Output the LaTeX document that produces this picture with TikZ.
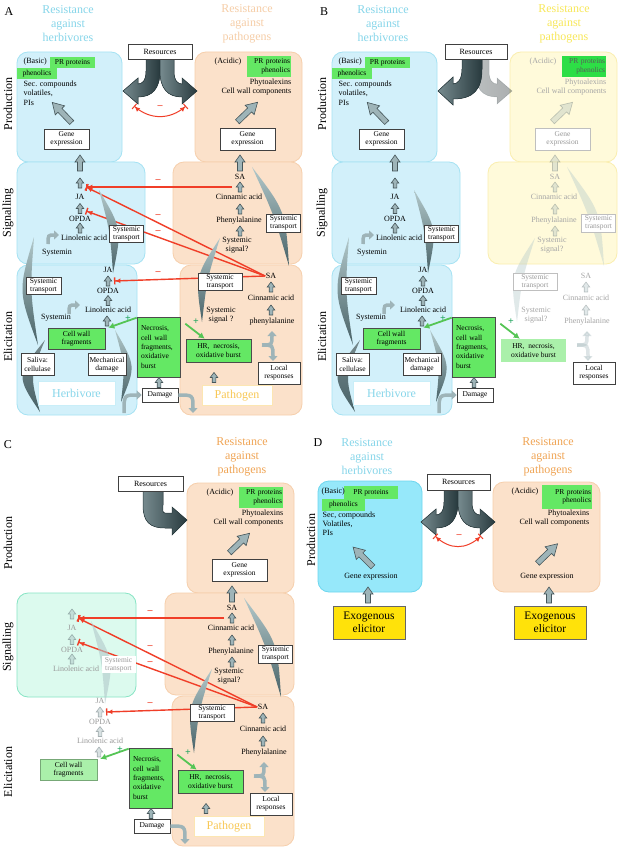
\documentclass[tikz,border=0pt]{standalone}
\usepackage{fontspec}
\setmainfont{Liberation Serif}
\usetikzlibrary{positioning, arrows.meta, calc}
\pgfdeclarelayer{boxes}
\pgfdeclarelayer{mid}
\pgfsetlayers{boxes,mid,main}

\definecolor{herbfill}{RGB}{210,240,250}
\definecolor{herbline}{RGB}{165,226,243}
\definecolor{herbhead}{RGB}{135,214,234}
\definecolor{pathfill}{RGB}{251,225,202}
\definecolor{pathline}{RGB}{246,207,172}
\definecolor{pathpale}{RGB}{246,206,168}
\definecolor{pathhead}{RGB}{240,165,85}
\definecolor{pathword}{RGB}{248,200,85}
\definecolor{yelfill}{RGB}{255,250,218}
\definecolor{yelline}{RGB}{250,238,175}
\definecolor{yelhead}{RGB}{248,232,90}
\definecolor{mintfill}{RGB}{220,250,238}
\definecolor{mintline}{RGB}{135,228,196}
\definecolor{cyanfill}{RGB}{150,232,250}
\definecolor{cyanline}{RGB}{110,214,238}
\definecolor{leafgreen}{RGB}{100,232,100}
\definecolor{richgreen}{RGB}{45,222,70}
\definecolor{palegreen}{RGB}{170,240,170}
\definecolor{inhibred}{RGB}{240,62,40}
\definecolor{plusgreen}{RGB}{35,165,95}
\definecolor{arrgrey}{RGB}{158,180,184}
\definecolor{arredge}{RGB}{70,86,90}
\definecolor{swlight}{RGB}{178,200,202}
\definecolor{swdark}{RGB}{72,98,103}
\definecolor{resdark}{RGB}{40,58,62}
\definecolor{reslight}{RGB}{118,138,142}
\definecolor{elicyel}{RGB}{255,226,10}

% crescent: top, bottom, outer control, inner control
\newcommand{\swoosh}[5][]{\path[#1] #2 .. controls #4 .. #3 .. controls #5 .. #2 -- cycle;}
% one branch of the resources arrow, turning left
\newcommand{\resbranch}{\filldraw[resarr] (-14,0) -- (-14,12) .. controls (-14,22) and (-18,25) .. (-22,25) -- (-22,19) -- (-37,32) -- (-22,45) -- (-22,38) .. controls (-8,38) and (0,30) .. (0,12) -- (0,0) -- cycle;}

% herbivore column
\newcommand{\herbprod}{%
  \node[grbox, minimum width=45pt, minimum height=11.5pt] (prot) at (72.5,62.5) {PR proteins};
  \node[grbox, minimum width=40pt, minimum height=11pt] (phen) at (37,73.5) {phenolics};
  \node[lbl, anchor=west] (basic) at (23,62) {(Basic)};
  \node[lbl, anchor=north west, align=left] (sec) at (23,80) {Sec. compounds\\volatiles,\\PIs};
  \pic[rotate=134] at (62,112.5) {diagarr};
  \node[wbox, minimum width=45pt, minimum height=20pt] (hgene) at (66.5,139) {Gene\\expression};
  \pic at (80,163) {bigup};
}
\newcommand{\herbsig}{%
  \swoosh[hleaf]{(99,190)}{(113,273)}{(122,229)}{(110,231)}
  \pic[hup] at (80,183) {upar};
  \node[lbl, htxt] (JAs) at (80,197) {JA};
  \pic[hup] at (80,208.5) {upar};
  \node[lbl, htxt] (OPDAs) at (80,219) {OPDA};
  \pic[hup] at (80,228) {upar};
  \node[lbl, htxt] (lins) at (84,238) {Linolenic acid};
  \node[wbox, hwbox, minimum width=34pt, minimum height=17pt] (hsts) at (126.5,233.5) {Systemic\\transport};
  \coordinate (tJA) at (86,187);
  \coordinate (tOP) at (86,211);
}
\newcommand{\herbelic}{%
  \node[lbl, htxt] (JAe) at (108,270) {JA};
  \pic[hup] at (108,281) {upar};
  \node[lbl, htxt] (OPDAe) at (108,291) {OPDA};
  \pic[hup] at (108,300.5) {upar};
  \node[lbl, htxt] (lined) at (108,310) {Linolenic acid};
  \pic[hup] at (107,321) {upar};
  \node[cwbox, minimum width=57pt, minimum height=21pt] (cwf) at (76.5,338.5) {Cell wall\\fragments};
  \coordinate (tJA2) at (114,281);
}
\newcommand{\herbextra}{%
  \swoosh[hleaf]{(34,237)}{(38,345)}{(18,291)}{(30,291)}
  \swoosh[dleaf]{(45,340)}{(40,412)}{(16,376)}{(30,376)}
  \swoosh[hleaf]{(115,330)}{(121,402)}{(136,366)}{(125,366)}
  \draw[cband] (48,244) .. controls (48,235) .. (59,235);
  \node[lbl] (sysa) at (57,253) {Systemin};
  \draw[cband] (69,314) .. controls (69,305) .. (80,305);
  \node[lbl] (sysb) at (56,318) {Systemin};
  \node[wbox, minimum width=35pt, minimum height=17pt] (hste) at (43.5,285.5) {Systemic\\transport};
  \node[wbox, minimum width=33pt, minimum height=22pt] (saliva) at (37.5,364.5) {Saliva:\\cellulase};
  \node[wbox, minimum width=38pt, minimum height=22pt] (mech) at (107,364.5) {Mechanical\\damage};
  \node[namebox, draw=herbline!60, text=herbhead, minimum width=77pt, minimum height=24pt] (herbi) at (76.5,393.5) {Herbivore};
}

% pathogen column
\newcommand{\pathprod}{%
  \node[lbl, ptxt] (acidic) at (228,62) {(Acidic)};
  \node[prgrn, text width=42pt, minimum height=21pt] (pprot) at (269,66.5) {PR proteins\\phenolics};
  \node[lbl, ptxt, anchor=north east, align=right, font=\fontsize{8}{9}\selectfont] (phyto) at (292,78) {Phytoalexins\\Cell wall components};
  \pic[pup, rotate=44] at (247.5,112) {diagarr};
  \node[wbox, pwbox, minimum width=55pt, minimum height=22pt] (pgene) at (247.5,139) {Gene\\expression};
  \pic[pup] at (240,163) {bigup};
}
\newcommand{\pathsig}{%
  \swoosh[pleaf]{(252,167)}{(289,266)}{(285.5,211)}{(274,215)}
  \node[lbl, ptxt] (SAs) at (240,177) {SA};
  \pic[pup] at (240,187) {upar};
  \node[lbl, ptxt] (cinns) at (239,197) {Cinnamic acid};
  \pic[pup] at (240,209) {upar};
  \node[lbl, ptxt] (phes) at (239,221) {Phenylalanine};
  \pic[pup] at (240,231) {upar};
  \node[lbl, ptxt, align=center] (sigs) at (237,245) {Systemic\\signal?};
  \node[wbox, pwbox, minimum width=34pt, minimum height=18pt] (psts) at (283.5,223) {Systemic\\transport};
  \coordinate (fromSA) at (232,187);
}
\newcommand{\pathelic}[1]{%
  \swoosh[pleaf]{(220,238)}{(202,322)}{(195,276.5)}{(207,279)}
  \node[lbl, ptxt] (SAe) at (271,276) {SA};
  \pic[pup] at (271,287) {upar};
  \node[lbl, ptxt] (cinne) at (271,298) {Cinnamic acid};
  \pic[pup] at (271,310) {upar};
  \node[lbl, ptxt] (phee) at (272,322) {#1};
  \draw[pband] (262,345) .. controls (272,345) .. (272,331);
  \draw[pband] (262,345) .. controls (273,345) .. (273,361);
  \node[wbox, minimum width=42pt, minimum height=22pt] (local) at (279,373) {Local\\responses};
  \node[wbox, pwbox, minimum width=44pt, minimum height=17pt] (pste) at (220,281.5) {Systemic\\transport};
  \node[hrbox, minimum width=65pt, minimum height=23pt] (hr) at (218.5,350.5) {HR,\ \ necrosis,\\oxidative burst};
}
\newcommand{\pathextra}{%
  \pic at (214,377.5) {upar};
  \node[namebox, draw=pathword!45, text=pathword, minimum width=70pt, minimum height=20pt] (patho) at (237,395.5) {Pathogen};
}

% wound signals in the middle
\newcommand{\damagepart}{%
  \node[nbox, text width=35pt, minimum height=60pt] (necro) at (158.5,347) {Necrosis,\\cell wall\\fragments,\\oxidative\\burst};
  \node[wbox, minimum width=36pt, minimum height=14pt] (dmg) at (160,395) {Damage};
  \pic at (159,382.5) {upar};
  \draw[gline] ([yshift=-1pt]necro.north west) -- ([xshift=3pt]cwf.north east);
  \node[plussign] (pl1) at (128,319) {+};
  \draw[gline] ([xshift=5pt, yshift=-7pt]necro.north east) -- ([xshift=19pt]hr.north west);
  \node[plussign] (pl2) at (196,322) {+};
}
% SA blocks JA
\newcommand{\crosstalk}{%
  \draw[inhib] (fromSA) -- (tJA);
  \draw[inhib] (SAe.west) -- (tJA);
  \draw[inhib] (SAe.west) -- (tOP);
  \draw[inhib] (SAe.west) -- (tJA2);
  \node[minsign] (m1) at (158,181) {--};
  \node[minsign] (m2) at (158,216) {--};
  \node[minsign] (m3) at (158,232) {--};
  \node[minsign] (m4) at (158,273) {--};
}

\begin{document}
\begin{tikzpicture}[x=1pt, y=-1pt,
    lbl/.style={font=\fontsize{8}{9.5}\selectfont, inner sep=0.5pt},
    wbox/.style={draw=black!75, fill=white, line width=0.6pt, font=\fontsize{7.5}{8.3}\selectfont, align=center, inner sep=1pt},
    grbox/.style={fill=leafgreen, font=\fontsize{7.5}{8.5}\selectfont, align=center, inner sep=1pt},
    nbox/.style={grbox, draw=black!70, line width=0.6pt, align=left, inner xsep=4pt, font=\fontsize{7.5}{9.3}\selectfont},
    hrbox/.style={grbox, draw=black!70, line width=0.6pt},
    cwbox/.style={grbox, draw=black!70, line width=0.6pt},
    prgrn/.style={grbox, align=right},
    namebox/.style={fill=white, line width=0.4pt, font=\fontsize{12}{12}\selectfont, inner sep=1pt},
    elibox/.style={fill=elicyel, draw=black!60, line width=0.7pt, align=center, font=\fontsize{11.5}{13}\selectfont, minimum width=72pt, minimum height=33pt},
    hbox/.style={rounded corners=11pt, fill=herbfill, draw=herbline, line width=0.8pt},
    pbox/.style={rounded corners=11pt, fill=pathfill, draw=pathline, line width=0.8pt},
    ybox/.style={rounded corners=11pt, fill=yelfill, draw=yelline, line width=0.8pt},
    mbox/.style={rounded corners=11pt, fill=mintfill, draw=mintline, line width=0.8pt},
    cbox/.style={rounded corners=11pt, fill=cyanfill, draw=cyanline, line width=0.8pt},
    htxt/.style={}, ptxt/.style={}, hwbox/.style={}, pwbox/.style={},
    hup/.style={}, pup/.style={},
    hleaf/.style={top color=swlight, bottom color=swdark},
    pleaf/.style={top color=swlight, bottom color=swdark},
    dleaf/.style={top color=swdark!75, bottom color=swdark},
    arrstyle/.style={fill=arrgrey, draw=arredge, line width=0.6pt},
    cband/.style={draw=arrgrey, line width=3.5pt, -{Triangle[width=9pt, length=5pt]}},
    pband/.style={cband},
    resarr/.style={left color=reslight, right color=resdark, draw=resdark, line width=0.5pt},
    inhib/.style={draw=inhibred, line width=1.4pt, -{Latex[length=5pt, width=5pt] Bar[width=7pt]}},
    dbl/.style={draw=inhibred, line width=1pt, {Bar[width=7pt] Latex[length=5pt, width=5pt]}-{Latex[length=5pt, width=5pt] Bar[width=7pt]}},
    gline/.style={draw=leafgreen!85!black, line width=1.8pt, -{Latex[length=6pt, width=6.5pt]}},
    minsign/.style={text=inhibred, font=\fontsize{10}{10}\selectfont\bfseries, inner sep=0pt},
    plussign/.style={text=plusgreen, font=\fontsize{10}{10}\selectfont\bfseries, inner sep=0pt},
    headlbl/.style={font=\fontsize{12}{14}\selectfont, align=center},
    sidelbl/.style={font=\fontsize{12}{12}\selectfont, rotate=90},
    paneltag/.style={font=\fontsize{12}{12}\selectfont},
    upar/.pic={\filldraw[arrstyle] (-1.8,5) -- (-1.8,0) -- (-3.8,0) -- (0,-5) -- (3.8,0) -- (1.8,0) -- (1.8,5) -- cycle;},
    bigup/.pic={\filldraw[arrstyle] (-2.5,8) -- (-2.5,-1) -- (-5,-1) -- (0,-8) -- (5,-1) -- (2.5,-1) -- (2.5,8) -- cycle;},
    diagarr/.pic={\filldraw[arrstyle] (-14,-2.8) -- (3,-2.8) -- (3,-6.5) -- (14,0) -- (3,6.5) -- (3,2.8) -- (-14,2.8) -- cycle;}
    ]
\useasboundingbox (0,0) rectangle (623,853);
\begin{pgfonlayer}{boxes}
  \fill[white] (0,0) rectangle (623,853);
\end{pgfonlayer}

% ---------------- A ----------------
\begin{scope}[name prefix=A-]
  \begin{pgfonlayer}{boxes}
    \draw[hbox] (17,52) rectangle (122,162);
    \draw[pbox] (195,52) rectangle (302,162);
    \draw[hbox] (17,162) rectangle (145,264);
    \draw[pbox] (173,162) rectangle (302,264);
    \draw[hbox] (17,265) rectangle (137,415);
    \draw[pbox] (180,265) rectangle (302,415);
  \end{pgfonlayer}
  \node[paneltag] (tag) at (9,12) {A};
  \node[headlbl, text=herbhead] (hhead) at (68,24) {Resistance\\against\\herbivores};
  \node[headlbl, text=pathpale] (phead) at (247,24) {Resistance\\against\\pathogens};
  \node[sidelbl] (prod) at (8,104) {Production};
  \node[sidelbl] (sig) at (8,213) {Signalling};
  \node[sidelbl] (eli) at (8,337) {Elicitation};
  \begin{scope}[shift={(160,59)}] \resbranch \end{scope}
  \begin{scope}[shift={(160,59)}, xscale=-1] \resbranch \end{scope}
  \node[wbox, minimum width=64pt, minimum height=15pt, font=\fontsize{8}{8}\selectfont] (res) at (160,51.5) {Resources};
  \coordinate (ra) at (134,106);
  \coordinate (rb) at (186,106);
  \draw[dbl] (ra) .. controls (150,120) and (170,120) .. (rb);
  \node[minsign] (rm) at (160,107) {--};
  \herbprod
  \pathprod
  \herbsig
  \pathsig
  \herbextra
  \herbelic
  \pathelic{phenylalanine}
  \pathextra
  \node[lbl, align=center] (sige) at (221,315) {Systemic\\signal ?};
  \damagepart
  \draw[cband] (124,413) .. controls (124,395) .. (dmg.west);
  \draw[cband] (dmg.east) .. controls (193,395) .. (193,413);
  \begin{pgfonlayer}{mid} \crosstalk \end{pgfonlayer}
\end{scope}

% ---------------- B ----------------
\begin{scope}[shift={(315,0)}, name prefix=B-,
    ptxt/.style={text=black!35}, pup/.style={opacity=0.3},
    pwbox/.style={draw=black!25, text=black!40},
    pleaf/.style={fill=swlight, opacity=0.4}, pband/.style={cband, opacity=0.35},
    hrbox/.style={grbox, fill=palegreen},
    prgrn/.style={grbox, fill=richgreen, text=black!65, align=right}]
  \begin{pgfonlayer}{boxes}
    \draw[hbox] (17,52) rectangle (122,162);
    \draw[ybox] (195,52) rectangle (302,162);
    \draw[hbox] (17,162) rectangle (145,264);
    \draw[ybox] (173,162) rectangle (302,264);
    \draw[hbox] (17,265) rectangle (137,415);
  \end{pgfonlayer}
  \node[paneltag] (tag) at (9,12) {B};
  \node[headlbl, text=herbhead] (hhead) at (68,24) {Resistance\\against\\herbivores};
  \node[headlbl, text=yelhead] (phead) at (249,24) {Resistance\\against\\pathogens};
  \node[sidelbl] (prod) at (7,104) {Production};
  \node[sidelbl] (sig) at (7,213) {Signalling};
  \node[sidelbl] (eli) at (7,337) {Elicitation};
  \begin{scope}[shift={(160,59)}, xscale=-1, opacity=0.2] \resbranch \end{scope}
  \begin{scope}[shift={(167,59)}]
    \filldraw[resarr] (-20,0) -- (-20,10) .. controls (-20,20) and (-24,25) .. (-29,25) -- (-29,18) -- (-44,32) -- (-29,46) -- (-29,40) .. controls (-8,40) and (0,30) .. (0,10) -- (0,0) -- cycle;
  \end{scope}
  \node[wbox, minimum width=62pt, minimum height=15pt, font=\fontsize{8}{8}\selectfont] (res) at (161,51.5) {Resources};
  \herbprod
  \pathprod
  \herbsig
  \pathsig
  \herbextra
  \herbelic
  \pathelic{Phenylalanine}
  \node[lbl, ptxt, align=center] (sige) at (221,315) {Systemic\\signal?};
  \damagepart
  \draw[cband] (124,413) .. controls (124,395) .. (dmg.west);
\end{scope}

% ---------------- C ----------------
\begin{scope}[shift={(-8,431)}, name prefix=C-,
    htxt/.style={text=black!40}, hup/.style={opacity=0.4},
    hwbox/.style={draw=none, text=black!40},
    hleaf/.style={fill=swlight, opacity=0.6},
    cwbox/.style={grbox, fill=palegreen, draw=palegreen!70!black, line width=0.4pt}]
  \begin{pgfonlayer}{boxes}
    \draw[pbox] (195,52) rectangle (302,162);
    \draw[mbox] (25,162) rectangle (144,266);
    \draw[pbox] (173,162) rectangle (302,264);
    \draw[pbox] (180,265) rectangle (302,415);
  \end{pgfonlayer}
  \node[paneltag] (tag) at (16,14) {C};
  \node[headlbl, text=pathhead] (phead) at (250,26) {Resistance\\against\\pathogens};
  \node[sidelbl] (prod) at (16,112) {Production};
  \node[sidelbl] (sig) at (16,216) {Signalling};
  \node[sidelbl] (eli) at (16,341) {Elicitation};
  \filldraw[resarr] (151,60) -- (151,74) .. controls (151,91) and (158,97) .. (173,97) -- (180,97) -- (180,104) -- (195,89) -- (180,76) -- (180,82) -- (173,82) .. controls (170,82) and (171,79) .. (171,74) -- (171,60) -- cycle;
  \node[wbox, minimum width=65pt, minimum height=15pt, font=\fontsize{8}{8}\selectfont] (res) at (158.5,52.5) {Resources};
  \pathprod
  \herbsig
  \pathsig
  \herbelic
  \pathelic{Phenylalanine}
  \pathextra
  \damagepart
  \draw[cband] (dmg.east) .. controls (193,395) .. (193,413);
  \begin{pgfonlayer}{mid} \crosstalk \end{pgfonlayer}
\end{scope}

% ---------------- D ----------------
\begin{scope}[name prefix=D-]
  \begin{pgfonlayer}{boxes}
    \node[sidelbl] (prod) at (311,540) {Production};
    \draw[cbox] (318,481) rectangle (422,592);
    \draw[pbox] (493,482) rectangle (600,592);
  \end{pgfonlayer}
  \node[paneltag] (tag) at (318,443) {D};
  \node[headlbl, text=herbhead] (hhead) at (367,457) {Resistance\\against\\herbivores};
  \node[headlbl, text=pathhead] (phead) at (548,457) {Resistance\\against\\pathogens};
  \begin{scope}[shift={(458,490)}] \resbranch \end{scope}
  \begin{scope}[shift={(458,490)}, xscale=-1] \resbranch \end{scope}
  \node[wbox, minimum width=63pt, minimum height=16pt, font=\fontsize{8}{8}\selectfont] (res) at (458.5,482) {Resources};
  \coordinate (ra) at (435,536);
  \coordinate (rb) at (481,536);
  \draw[dbl] (ra) .. controls (450,550) and (466,550) .. (rb);
  \node[minsign] (rm) at (459,536) {--};
  % herbivores
  \node[grbox, minimum width=54pt, minimum height=13pt] (prot) at (371,492.5) {PR proteins};
  \node[grbox, minimum width=43pt, minimum height=12pt] (phen) at (343.5,505) {phenolics};
  \node[lbl, anchor=west] (basic) at (321,492) {(Basic)};
  \node[lbl, anchor=north west, align=left, font=\fontsize{8}{9}\selectfont] (sec) at (322,511) {Sec, compounds\\Volatiles,\\PIs};
  \pic[rotate=135] at (363,557) {diagarr};
  \node[lbl] (hgene) at (371,577) {Gene expression};
  \pic at (368,595) {bigup};
  \node[elibox] (helic) at (369,622.5) {Exogenous\\elicitor};
  % pathogens
  \node[lbl] (acidic) at (525,492) {(Acidic)};
  \node[prgrn, text width=48pt, minimum height=24pt] (pprot) at (567,497) {PR proteins\\phenolics};
  \node[lbl, anchor=north east, align=right, font=\fontsize{8}{9}\selectfont] (phyto) at (590,509) {Phytoalexins\\Cell wall components};
  \pic[rotate=44] at (547.5,553.5) {diagarr};
  \node[lbl] (pgene) at (547,577) {Gene expression};
  \pic at (549,595) {bigup};
  \node[elibox] (pelic) at (550,622.5) {Exogenous\\elicitor};
\end{scope}
\end{tikzpicture}
\end{document}
